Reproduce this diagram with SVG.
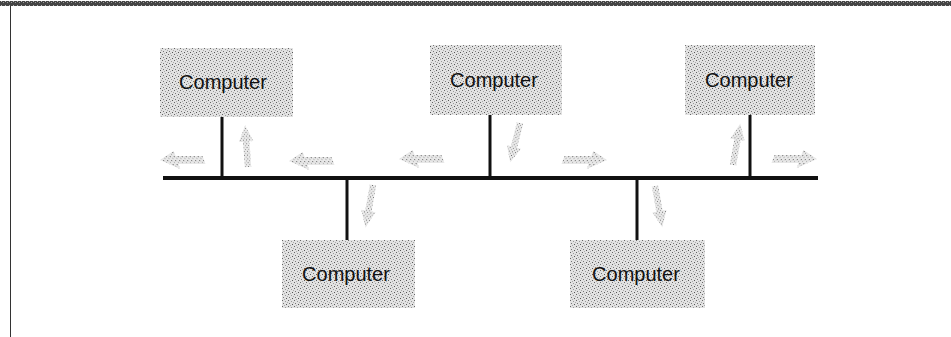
<svg xmlns="http://www.w3.org/2000/svg" width="951" height="337" viewBox="0 0 951 337">
  <style>
    .box { fill: url(#stip); }
    .lbl { font-family: "Liberation Sans", Arial, sans-serif; font-size: 20px; fill: #111; text-anchor: middle; }
    .wire { stroke: #111; stroke-width: 3; fill: none; }
    .bus { stroke: #111; stroke-width: 4; fill: none; }
    .arr { fill: url(#astip); }
  </style>
  <defs>
    <pattern id="stip" width="6" height="6" patternUnits="userSpaceOnUse">
      <rect width="6" height="6" fill="#e2e2e2"/>
      <rect x="0" y="0" width="1" height="1" fill="#666"/>
      <rect x="3" y="1" width="1" height="1" fill="#999"/>
      <rect x="1" y="3" width="1" height="1" fill="#777"/>
      <rect x="4" y="4" width="1" height="1" fill="#555"/>
      <rect x="5" y="2" width="1" height="1" fill="#aaa"/>
      <rect x="2" y="5" width="1" height="1" fill="#aaa"/>
    </pattern>
    <pattern id="astip" width="4" height="4" patternUnits="userSpaceOnUse">
      <rect width="4" height="4" fill="#e8e8e8"/>
      <rect x="0" y="0" width="1" height="1" fill="#666"/>
      <rect x="2" y="2" width="1" height="1" fill="#999"/>
    </pattern>
    <pattern id="band" width="4" height="4" patternUnits="userSpaceOnUse">
      <rect width="4" height="4" fill="#444"/>
      <rect x="1" y="1" width="1" height="1" fill="#bbb"/>
      <rect x="3" y="2" width="1" height="1" fill="#999"/>
    </pattern>
    <path id="arrowR" d="M0,-4 L27,-4 L27,-9 L44,0 L27,9 L27,4 L0,4 Z"/>
  </defs>

  <rect width="951" height="337" fill="#ffffff"/>
  <!-- frame -->
  <rect x="0" y="1" width="951" height="5" fill="url(#band)"/>
  <line x1="10.5" y1="6" x2="10.5" y2="337" stroke="#333" stroke-width="1"/>

  <g id="connectors">
    <line class="bus" x1="163" y1="178" x2="818" y2="178"/>
    <line class="wire" x1="222" y1="117" x2="222" y2="178"/>
    <line class="wire" x1="490" y1="115" x2="490" y2="178"/>
    <line class="wire" x1="750" y1="115" x2="750" y2="178"/>
    <line class="wire" x1="347" y1="178" x2="347" y2="240"/>
    <line class="wire" x1="637" y1="178" x2="637" y2="240"/>
  </g>

  <g id="arrows">
    <use href="#arrowR" class="arr" transform="translate(204,160) scale(-1,1) skewX(-20)"/>
    <use href="#arrowR" class="arr" transform="translate(333,161) scale(-1,1) skewX(-20)"/>
    <use href="#arrowR" class="arr" transform="translate(443,159) scale(-1,1) skewX(-20)"/>
    <use href="#arrowR" class="arr" transform="translate(563,160) skewX(-20)"/>
    <use href="#arrowR" class="arr" transform="translate(773,159) skewX(-20)"/>
    <use href="#arrowR" class="arr" transform="translate(248,167) rotate(-94) scale(0.95,0.8)"/>
    <use href="#arrowR" class="arr" transform="translate(520,123) rotate(104) scale(0.92,0.8)"/>
    <use href="#arrowR" class="arr" transform="translate(733,165) rotate(-80) scale(0.95,0.8)"/>
    <use href="#arrowR" class="arr" transform="translate(373,185) rotate(100) scale(0.98,0.8)"/>
    <use href="#arrowR" class="arr" transform="translate(655,186) rotate(80) scale(0.95,0.8)"/>
  </g>

  <g id="computer1">
    <rect class="box" x="160" y="48" width="133" height="69"/>
    <text class="lbl" x="223" y="89">Computer</text>
  </g>
  <g id="computer2">
    <rect class="box" x="430" y="45" width="132" height="70"/>
    <text class="lbl" x="494" y="87">Computer</text>
  </g>
  <g id="computer3">
    <rect class="box" x="685" y="45" width="130" height="70"/>
    <text class="lbl" x="749" y="87">Computer</text>
  </g>
  <g id="computer4">
    <rect class="box" x="282" y="240" width="133" height="68"/>
    <text class="lbl" x="346" y="281">Computer</text>
  </g>
  <g id="computer5">
    <rect class="box" x="570" y="240" width="135" height="68"/>
    <text class="lbl" x="636" y="281">Computer</text>
  </g>
</svg>
